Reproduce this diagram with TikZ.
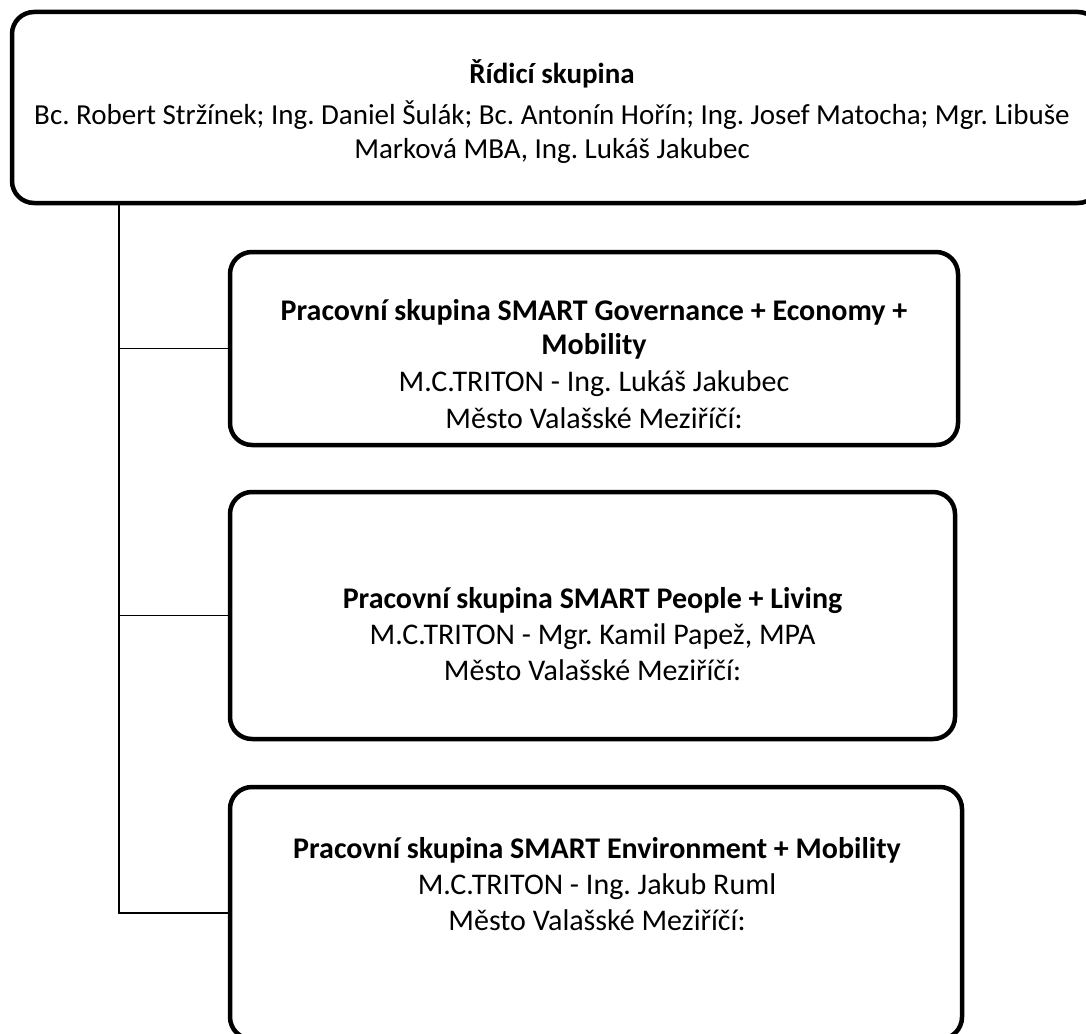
\documentclass[tikz,border=0pt]{standalone}
\usepackage{fontspec}
\setmainfont{Carlito}
\frenchspacing
\tikzset{
    box/.style={draw, line width=4.5pt, rounded corners=22pt, inner sep=0pt},
    link/.style={line width=1.3pt},
    txt/.style={align=center, inner sep=0pt, font=\fontsize{30}{34}\selectfont},
}

\begin{document}
\begin{tikzpicture}[x=1pt, y=-1pt]
    \useasboundingbox (0,0) rectangle (1086,1033);

    %% Steering group
    \node[box, minimum width=1088pt, minimum height=191pt] (top) at (556,107.5) {};
    \node[txt, font=\fontsize{29}{34}\selectfont] (toptxt) at (552,112) {\textbf{Řídicí skupina}\\[7pt]
        Bc. Robert Stržínek; Ing. Daniel Šulák; Bc. Antonín Hořín; Ing. Josef Matocha; Mgr. Libuše\\
        Marková MBA, Ing. Lukáš Jakubec};

    %% Working groups
    % Governance + Economy + Mobility
    \node[box, minimum width=728pt, minimum height=193pt] (wg1) at (594,348.5) {};
    \node[txt] (wg1txt) at (594,364) {\textbf{Pracovní skupina SMART Governance + Economy +}\\
        \textbf{Mobility}\\[3pt]
        M.C.TRITON - Ing. Lukáš Jakubec\\[3pt]
        Město Valašské Meziříčí:};

    % People + Living
    \node[box, minimum width=725pt, minimum height=247pt] (wg2) at (592.5,615.5) {};
    \node[txt] (wg2txt) at (592.5,634) {\textbf{Pracovní skupina SMART People + Living}\\[2pt]
        M.C.TRITON - Mgr. Kamil Papež, MPA\\[2pt]
        Město Valašské Meziříčí:};

    % Environment + Mobility
    \node[box, minimum width=732pt, minimum height=252pt] (wg3) at (596,913) {};
    \node[txt] (wg3txt) at (597,884) {\textbf{Pracovní skupina SMART Environment + Mobility}\\[2pt]
        M.C.TRITON - Ing. Jakub Ruml\\[2pt]
        Město Valašské Meziříčí:};

    %% Connectors
    \coordinate (rail) at (119,0);
    \draw[link] (rail |- top.south) |- (wg3.west);
    \draw[link] (rail |- wg1.west) -- (wg1.west);
    \draw[link] (rail |- wg2.west) -- (wg2.west);

\end{tikzpicture}
\end{document}
